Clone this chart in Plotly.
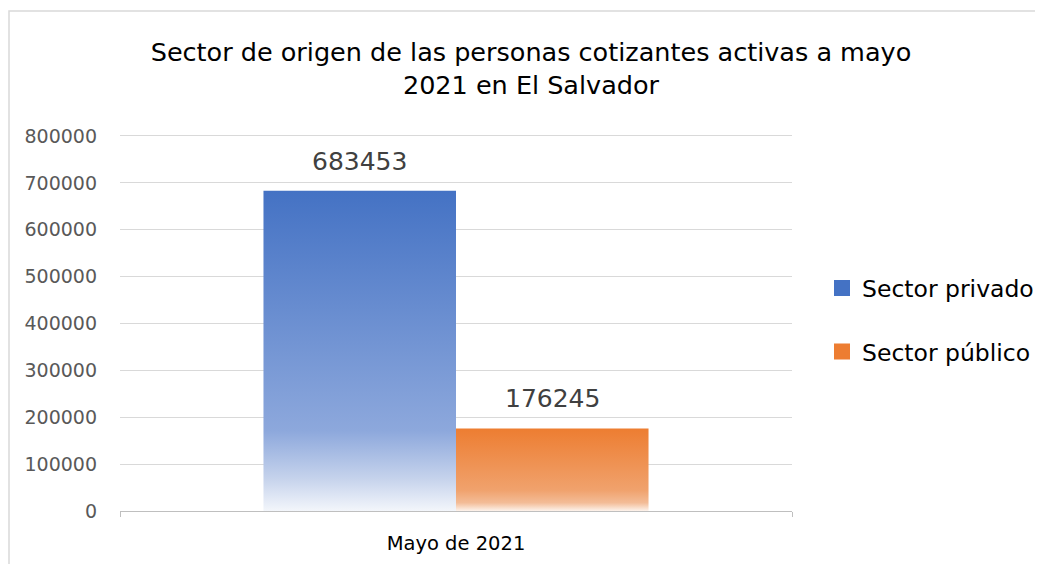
import plotly.graph_objects as go

# ---- data ----
categories = ["Mayo de 2021"]
series_names = ["Sector privado", "Sector público"]
privado = [683453]
publico = [176245]
y_tickvals = [0, 100000, 200000, 300000, 400000, 500000, 600000, 700000, 800000]
title_text = "Sector de origen de las personas cotizantes activas a mayo<br>2021 en El Salvador"

# ---- style ----
series_values = [privado, publico]
top_colors = ["#4472C4", "#ED7D31"]
gradients = [
    [[0.0, "#F3F6FB"], [0.1, "#C6D3EC"], [0.25, "#8DA8DC"], [1.0, "#4472C4"]],
    [[0.0, "#FDF3EC"], [0.1, "#F3BC97"], [0.25, "#F0A26D"], [1.0, "#ED7D31"]],
]
BARGAP = 0.427
FONT = "DejaVu Sans"
W, H = 1035, 556  # page body has an 8px margin

fig = go.Figure()

n = len(series_names)
w = (1 - BARGAP) / n
annotations = []
for i, (name, vals) in enumerate(zip(series_names, series_values)):
    # real bar trace (data carrier, hover); visual fill drawn by gradient overlay
    fig.add_trace(go.Bar(
        name=name, x=categories, y=vals,
        marker=dict(color="rgba(255,255,255,0)", line=dict(width=0)),
        showlegend=False, hoverinfo="x+y+name",
    ))
    x0 = -w * n / 2 + i * w
    x1 = x0 + w
    for v in vals:
        fig.add_trace(go.Scatter(
            x=[x0, x1, x1, x0, x0], y=[0, 0, v, v, 0],
            xaxis="x2", yaxis="y", mode="lines", fill="toself",
            fillgradient=dict(type="vertical", colorscale=gradients[i]),
            line=dict(width=0, color="rgba(0,0,0,0)"),
            showlegend=False, hoverinfo="skip",
        ))
        annotations.append(dict(
            x=(x0 + x1) / 2, y=v, xref="x2", yref="y",
            text=str(v), showarrow=False, yanchor="bottom", yshift=13,
            font=dict(family=FONT, size=25, color="#404040"),
        ))
    # legend entry
    fig.add_trace(go.Scatter(
        x=[None], y=[None], mode="markers", name=name,
        marker=dict(symbol="square", size=16, color=top_colors[i]),
        legendgroup=name, xaxis="x2", yaxis="y",
    ))

fig.update_layout(
    width=W, height=H,
    margin=dict(l=112, r=251, t=128, b=53, autoexpand=False),
    paper_bgcolor="white", plot_bgcolor="white",
    barmode="group", bargap=BARGAP,
    title=dict(text=title_text, x=523 / W, xanchor="center",
               y=1 - 53 / H, yanchor="top", yref="container",
               font=dict(family=FONT, size=25.5, color="#000000")),
    xaxis=dict(type="category", showline=True, linecolor="#BFBFBF", linewidth=1,
               ticks="outside", tickson="boundaries", ticklen=5, tickcolor="#BFBFBF",
               showgrid=False, ticklabelstandoff=15,
               tickfont=dict(family=FONT, size=19.5, color="#000000")),
    # top edge line stands in for the 800000 gridline (clipped at the plot edge)
    xaxis2=dict(overlaying="x", range=[-0.5, 0.5], side="top", showline=True,
                linecolor="#D9D9D9", linewidth=1, showgrid=False, zeroline=False,
                showticklabels=False, ticks="", fixedrange=True),
    yaxis=dict(range=[0, 800000], tickvals=y_tickvals, tickformat="d",
               showgrid=True, gridcolor="#D9D9D9", gridwidth=1, zeroline=False,
               showline=False, ticklabelstandoff=22,
               tickfont=dict(family=FONT, size=19, color="#595959")),
    legend=dict(x=(822 - 120) / 672, y=0.509, xanchor="left", yanchor="middle",
                font=dict(family=FONT, size=23.5, color="#000000"),
                tracegroupgap=30, bgcolor="rgba(0,0,0,0)"),
    annotations=annotations,
    shapes=[dict(type="rect", xref="paper", yref="paper",
                 x0=(1 - 112) / 672, x1=1.8, y0=-0.6, y1=(503 - 3) / 375,
                 line=dict(color="#D9D9D9", width=1.5), layer="below")],
)

fig.write_html("out.html")
